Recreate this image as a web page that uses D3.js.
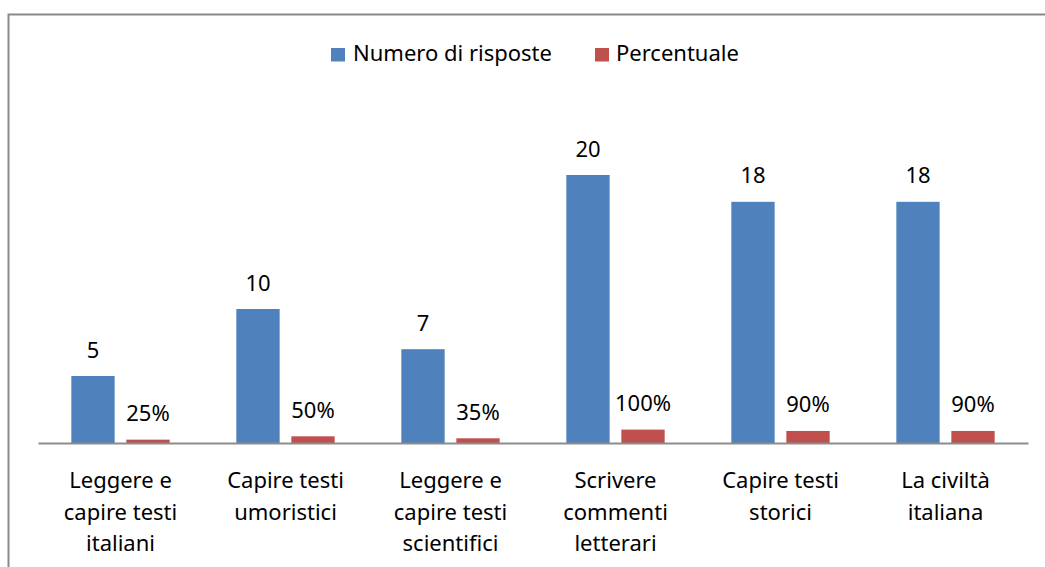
<!DOCTYPE html>
<html>
<head>
<meta charset="utf-8">
<script src="https://cdn.jsdelivr.net/npm/d3@7"></script>
<style>
  html, body { margin: 0; padding: 0; background: #fff; }
  svg { display: block; }
  text { font-family: "Noto Sans", "Liberation Sans", sans-serif; fill: #000; }
</style>
</head>
<body>
<svg id="chart" width="1045" height="567"></svg>
<script>
// ---- data ----
const categories = [
  "Leggere e\ncapire testi\nitaliani",
  "Capire testi\numoristici",
  "Leggere e\ncapire testi\nscientifici",
  "Scrivere\ncommenti\nletterari",
  "Capire testi\nstorici",
  "La civiltà\nitaliana"
];
const seriesNames = ["Numero di risposte", "Percentuale"];
const numeroRisposte = [5, 10, 7, 20, 18, 18];
const percentuale = [0.25, 0.50, 0.35, 1.00, 0.90, 0.90];
const seriesColors = ["#4F81BD", "#C0504D"];

// ---- layout ----
const svg = d3.select("#chart");
const W = 1045, H = 567;
const plotLeft = 38, plotRight = 1028, baseY = 443, topY = 108;
const fontSize = 22;

// outer frame (clipped by the picture)
svg.append("path")
  .attr("d", `M8.5,${H + 5} L8.5,14.5 L${W + 5},14.5`)
  .attr("fill", "none")
  .attr("stroke", "#898989")
  .attr("stroke-width", 2);

const x0 = d3.scaleBand().domain(categories).range([plotLeft, plotRight]).paddingInner(0).paddingOuter(0);
const x1 = d3.scaleBand().domain(seriesNames).range([0, x0.bandwidth()]).paddingInner(0.2127).paddingOuter(0.606);
const y = d3.scaleLinear().domain([0, 25]).range([baseY, topY]);

const rows = categories.map((c, i) => ({
  cat: c,
  vals: [
    { s: seriesNames[0], v: numeroRisposte[i], label: d3.format("d")(numeroRisposte[i]) },
    { s: seriesNames[1], v: percentuale[i], label: d3.format(".0%")(percentuale[i]) }
  ]
}));

const groups = svg.append("g").selectAll("g")
  .data(rows).join("g")
  .attr("transform", d => `translate(${x0(d.cat)},0)`);

groups.selectAll("rect")
  .data(d => d.vals).join("rect")
  .attr("x", d => x1(d.s))
  .attr("y", d => y(d.v))
  .attr("width", x1.bandwidth())
  .attr("height", d => y(0) - y(d.v))
  .attr("fill", (d, i) => seriesColors[i]);

groups.selectAll("text.val")
  .data(d => d.vals).join("text")
  .attr("class", "val")
  .attr("x", d => x1(d.s) + x1.bandwidth() / 2)
  .attr("y", d => y(d.v) - 18.5)
  .attr("text-anchor", "middle")
  .style("font-size", fontSize + "px")
  .text(d => d.label);

// category axis
const xAxis = svg.append("g")
  .attr("transform", `translate(0,${baseY})`)
  .call(d3.axisBottom(x0).tickSize(0).tickFormat(""));
xAxis.select(".domain").attr("stroke", "#8c8c8c").attr("stroke-width", 2);

const catLabels = svg.append("g").selectAll("text")
  .data(categories).join("text")
  .attr("text-anchor", "middle")
  .style("font-size", fontSize + "px")
  .attr("transform", d => `translate(${x0(d) + x0.bandwidth() / 2},488)`);
catLabels.selectAll("tspan")
  .data(d => d.split("\n")).join("tspan")
  .attr("x", 0)
  .attr("y", (d, i) => i * 31.7)
  .text(d => d);

// legend
const legendItems = [
  { name: seriesNames[0], color: seriesColors[0], sx: 331, tx: 353 },
  { name: seriesNames[1], color: seriesColors[1], sx: 595, tx: 616 }
];
const legend = svg.append("g");
legend.selectAll("rect").data(legendItems).join("rect")
  .attr("x", d => d.sx).attr("y", 48)
  .attr("width", 14).attr("height", 13.5)
  .attr("fill", d => d.color);
legend.selectAll("text").data(legendItems).join("text")
  .attr("x", d => d.tx).attr("y", 61)
  .style("font-size", fontSize + "px")
  .text(d => d.name);
</script>
</body>
</html>
